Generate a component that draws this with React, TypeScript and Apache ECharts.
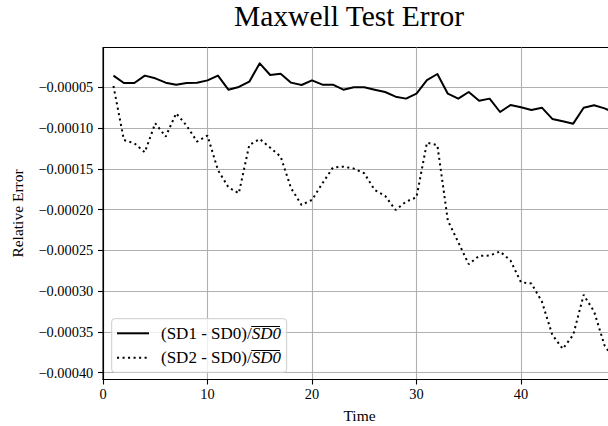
import React, { useEffect, useRef } from 'react';
import * as echarts from 'echarts';

const FONT = 'Liberation Serif';

const time = [1, 2, 3, 4, 5, 6, 7, 8, 9, 10, 11, 12, 13, 14, 15, 16, 17, 18, 19, 20, 21, 22, 23, 24, 25,
  26, 27, 28, 29, 30, 31, 32, 33, 34, 35, 36, 37, 38, 39, 40, 41, 42, 43, 44, 45, 46, 47, 48, 49];

const sd1Error = [
  -0.0000357, -0.0000447, -0.0000447, -0.0000357, -0.000039, -0.0000443, -0.0000468, -0.0000447, -0.0000443, -0.0000415,
  -0.0000357, -0.0000529, -0.0000496, -0.0000431, -0.0000206, -0.0000349, -0.0000333, -0.0000443, -0.0000472, -0.0000415,
  -0.0000468, -0.0000468, -0.0000529, -0.00005, -0.00005, -0.0000529, -0.0000558, -0.0000615, -0.0000639, -0.0000578,
  -0.0000413, -0.0000337, -0.0000578, -0.0000639, -0.0000558, -0.0000664, -0.0000639, -0.0000803, -0.0000717, -0.0000745,
  -0.0000778, -0.000075, -0.0000888, -0.0000917, -0.0000946, -0.000075, -0.0000721, -0.0000758, -0.0000815,
];

const sd2Error = [
  -0.0000484, -0.0001146, -0.0001187, -0.0001297, -0.0000941, -0.0001105, -0.0000819, -0.000097, -0.0001166, -0.0001093,
  -0.0001514, -0.0001726, -0.0001799, -0.0001207, -0.0001134, -0.000124, -0.000135, -0.0001738, -0.0001942, -0.0001881,
  -0.0001677, -0.0001485, -0.0001473, -0.0001497, -0.0001554, -0.0001759, -0.0001832, -0.0002004, -0.0001902, -0.0001849,
  -0.000118, -0.000121, -0.0002134, -0.00024, -0.0002669, -0.0002567, -0.0002563, -0.0002514, -0.0002625, -0.000289,
  -0.0002907, -0.0003127, -0.0003536, -0.0003707, -0.0003536, -0.0003045, -0.000325, -0.0003666, -0.000385,
];

const xTicks = [0, 10, 20, 30, 40];
const yTicks = [-0.0004, -0.00035, -0.0003, -0.00025, -0.0002, -0.00015, -0.0001, -0.00005];

const seriesNames = ['(SD1 - SD0)/SD0', '(SD2 - SD0)/SD0'];
const legendPrefix = ['(SD1 - SD0)/', '(SD2 - SD0)/'];
const legendOver = 'SD0';

export default function App() {
  const ref = useRef<HTMLDivElement>(null);

  useEffect(() => {
    if (!ref.current) return;
    const chart = echarts.init(ref.current, null, { renderer: 'svg' });

    const legendLeft = 111.7;
    const legendTop = 318.7;
    const padTop = 5.6;
    const padLeft = 4.3;
    const itemW = 32;
    const itemH = 18;
    const itemGap = 6.4;
    const textPad = 7;
    const legendFontSize = 17;

    const canvas = document.createElement('canvas');
    const ctx = canvas.getContext('2d')!;
    const textStartX = legendLeft + padLeft + itemW + 5 + textPad;
    const overlines: any[] = [];
    legendPrefix.forEach((p, i) => {
      ctx.font = `${legendFontSize}px "${FONT}"`;
      const pw = ctx.measureText(p).width;
      ctx.font = `italic ${legendFontSize}px "${FONT}"`;
      const ow = ctx.measureText(legendOver).width;
      const rowCenter = legendTop + padTop + itemH / 2 + i * (itemH + itemGap);
      const y = Math.round(rowCenter - 7.5) + 0.5;
      overlines.push({
        type: 'line',
        z: 100,
        shape: { x1: textStartX + pw + 0.5, y1: y, x2: textStartX + pw + ow, y2: y },
        style: { stroke: '#000', lineWidth: 1 },
      });
    });

    const option: any = {
      animation: false,
      backgroundColor: '#fff',
      title: {
        text: 'Maxwell Test Error',
        left: 234,
        top: 1,
        padding: 0,
        textStyle: { fontFamily: FONT, fontSize: 29.5, fontWeight: 'normal', color: '#000' },
      },
      grid: {
        left: 103,
        right: -2,
        top: 47.5,
        bottom: 46.5,
        show: true,
        borderColor: '#000',
        borderWidth: 1.1,
        containLabel: false,
        outerBoundsMode: 'none',
      },
      legend: {
        orient: 'vertical',
        left: legendLeft,
        top: legendTop,
        padding: [padTop, 5.7, 5.6, padLeft],
        itemWidth: itemW,
        itemHeight: itemH,
        itemGap: itemGap,
        backgroundColor: 'rgba(255,255,255,0.8)',
        borderColor: '#cccccc',
        borderWidth: 1,
        borderRadius: 3,
        itemStyle: { opacity: 0 },
        data: seriesNames,
        formatter: (name: string) => {
          const i = seriesNames.indexOf(name);
          return legendPrefix[i] + '{it|' + legendOver + '}';
        },
        textStyle: {
          fontFamily: FONT,
          fontSize: legendFontSize,
          color: '#000',
          lineHeight: itemH,
          padding: [0, 0, 0, textPad],
          rich: {
            it: { fontFamily: FONT, fontSize: legendFontSize, fontStyle: 'italic', color: '#000', lineHeight: itemH },
          },
        },
      },
      xAxis: {
        type: 'value',
        min: 0,
        max: 48.52,
        splitNumber: 5,
        name: 'Time',
        nameLocation: 'middle',
        nameGap: 27.5,
        nameTextStyle: { fontFamily: FONT, fontSize: 15.5, color: '#000', padding: [0, 0, 0, 6] },
        axisLine: { show: true, onZero: false, lineStyle: { color: '#000', width: 1.1 } },
        axisTick: { show: true, inside: false, length: 5, customValues: xTicks, lineStyle: { color: '#000', width: 1.1 } },
        axisLabel: { customValues: xTicks, margin: 7, color: '#000', fontFamily: FONT, fontSize: 14.4 },
        splitLine: { show: true, lineStyle: { color: '#b0b0b0', width: 1.1 } },
      },
      yAxis: {
        type: 'value',
        min: -0.0004083,
        max: -0.0000012,
        splitNumber: 8,
        name: 'Relative Error',
        nameLocation: 'middle',
        nameGap: 78,
        nameTextStyle: { fontFamily: FONT, fontSize: 15.5, color: '#000' },
        axisLine: { show: true, onZero: false, lineStyle: { color: '#000', width: 1.1 } },
        axisTick: { show: true, inside: false, length: 5, customValues: yTicks, lineStyle: { color: '#000', width: 1.1 } },
        axisLabel: {
          customValues: yTicks,
          margin: 9.7,
          color: '#000',
          fontFamily: FONT,
          fontSize: 14.4,
          formatter: (v: number) => (v < 0 ? '\u2212' : '') + Math.abs(v).toFixed(5),
        },
        splitLine: { show: true, lineStyle: { color: '#b0b0b0', width: 1.1 } },
      },
      series: [
        {
          name: seriesNames[0],
          type: 'line',
          symbol: 'none',
          showSymbol: false,
          clip: true,
          data: time.map((t, i) => [t, sd1Error[i]]),
          lineStyle: { color: '#000', width: 2, type: 'solid', join: 'round', cap: 'butt' },
          itemStyle: { color: '#000' },
        },
        {
          name: seriesNames[1],
          type: 'line',
          symbol: 'none',
          showSymbol: false,
          clip: true,
          data: time.map((t, i) => [t, sd2Error[i]]),
          lineStyle: { color: '#000', width: 2, type: [2.08, 3.44], cap: 'butt' },
          itemStyle: { color: '#000' },
        },
      ],
      graphic: overlines,
    };

    chart.setOption(option);
    return () => chart.dispose();
  }, []);

  return (
    <div
      ref={ref}
      style={{ position: 'absolute', left: 0, top: 0, width: 608, height: 426, overflow: 'hidden' }}
    />
  );
}
